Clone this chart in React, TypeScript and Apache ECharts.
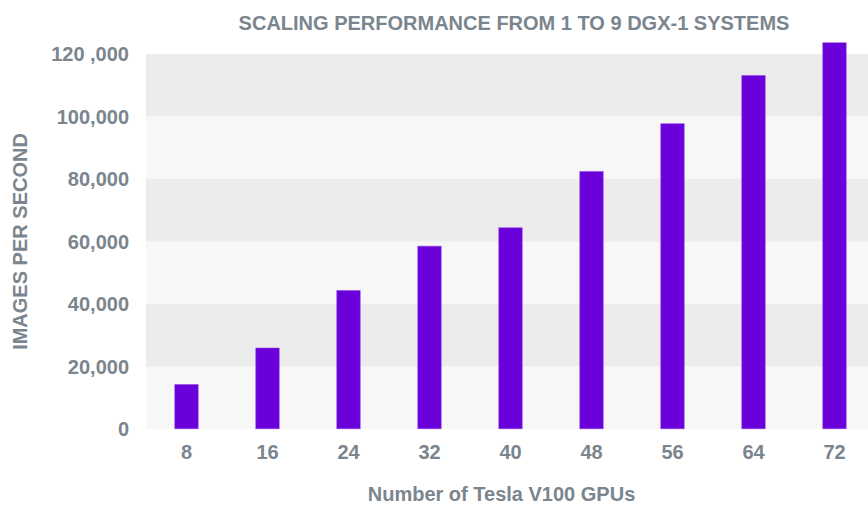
import React, { useEffect, useRef } from "react";
import * as echarts from "echarts";

const categories = ["8", "16", "24", "32", "40", "48", "56", "64", "72"];
const imagesPerSecond = [14300, 26000, 44400, 58600, 64500, 82500, 97800, 113200, 123700];
const yTickLabels: Record<number, string> = {
  0: "0",
  20000: "20,000",
  40000: "40,000",
  60000: "60,000",
  80000: "80,000",
  100000: "100,000",
  120000: "120 ,000",
};

const TEXT = "#7a858e";
const FONT = "Liberation Sans";

export default function App() {
  const ref = useRef<HTMLDivElement>(null);
  useEffect(() => {
    if (!ref.current) return;
    const chart = echarts.init(ref.current, null, { renderer: "svg" });
    chart.setOption({
      animation: false,
      backgroundColor: "#ffffff",
      title: {
        text: "SCALING PERFORMANCE FROM 1 TO 9 DGX-1 SYSTEMS",
        left: 509,
        top: 8,
        textAlign: "center",
        textStyle: { color: TEXT, fontFamily: FONT, fontWeight: "bold", fontSize: 20 },
      },
      grid: { left: 146, top: 54, height: 375, width: 729, outerBoundsMode: "none", containLabel: false },
      xAxis: {
        type: "category",
        data: categories,
        axisLine: { show: false },
        axisTick: { show: false },
        axisLabel: { color: TEXT, fontFamily: FONT, fontWeight: "bold", fontSize: 20, margin: 13 },
        name: "Number of Tesla V100 GPUs",
        nameLocation: "middle",
        nameGap: 55,
        nameTextStyle: {
          color: TEXT, fontFamily: FONT, fontWeight: "bold", fontSize: 20, padding: [0, 18, 0, 0],
        },
      },
      yAxis: {
        type: "value",
        min: 0,
        max: 120000,
        interval: 20000,
        axisLine: { show: false },
        axisTick: { show: false },
        splitLine: { show: false },
        splitArea: { show: true, areaStyle: { color: ["#f7f7f7", "#ececec"] } },
        axisLabel: {
          color: TEXT, fontFamily: FONT, fontWeight: "bold", fontSize: 20, margin: 17,
          formatter: (v: number) => yTickLabels[v] ?? String(v),
        },
        name: "IMAGES PER SECOND",
        nameLocation: "middle",
        nameGap: 116,
        nameTextStyle: { color: TEXT, fontFamily: FONT, fontWeight: "bold", fontSize: 20 },
      },
      series: [
        {
          type: "bar",
          data: imagesPerSecond,
          barWidth: 24,
          clip: false,
          itemStyle: { color: "#6a00da", borderColor: "#8a3ae6", borderWidth: 0.5 },
        },
      ],
    });
    return () => chart.dispose();
  }, []);
  return (
    <div
      ref={ref}
      style={{ position: "absolute", left: 0, top: 0, width: 868, height: 509 }}
    />
  );
}
